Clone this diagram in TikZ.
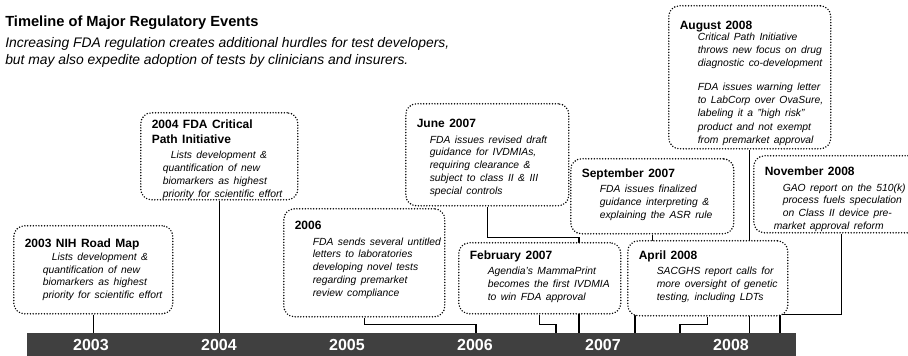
\documentclass[tikz,border=0pt]{standalone}
\usepackage{fontspec}
\setmainfont{Liberation Sans}
\usetikzlibrary{backgrounds}
\definecolor{barfill}{RGB}{64,64,64}
\tikzset{
  heading/.style    = {anchor=base west, inner sep=0pt,
                       font=\fontsize{11}{13}\selectfont\bfseries},
  subheading/.style = {anchor=base west, inner sep=0pt,
                       font=\fontsize{10.4}{12.75}\selectfont\itshape},
  evbox/.style = {
    rectangle, draw=black, fill=white, rounded corners=8pt,
    line width=1.2pt, dash pattern=on 0pt off 2.1pt, line cap=round,
    anchor=north west, inner xsep=8.25pt, inner ysep=3pt, align=left
  },
  evsize/.style 2 args = {minimum width=#1*0.75pt, minimum height=#2*0.75pt,
                          text width=#1*0.75pt-16.5pt},
  yearbar/.style = {fill=barfill, anchor=north west, inner sep=0pt,
                    minimum width=576.75pt, minimum height=17.25pt},
  yearlbl/.style = {text=white, inner sep=0pt,
                    font=\fontsize{12}{12}\selectfont\bfseries},
  conn/.style = {draw=black, line width=0.9pt}
}
\newcommand{\evhead}[2][2pt]{{\fontsize{9}{11}\selectfont\bfseries #2\par}\vspace{#1}}
\newcommand{\evbody}[2][13.5pt]{{\itshape\fontsize{7.75}{9.6}\selectfont
  \hyphenpenalty=10000 \leftskip=#1 \rightskip=-40pt plus 1fil #2\par}}
% trailing kern: negative moves the text down in its box, positive moves it up
\newcommand{\evshift}[1]{\par\kern#1\relax}

\begin{document}
\begin{tikzpicture}[x=0.75pt, y=-0.75pt]
  \useasboundingbox (0,0) rectangle (908,356);

  %% Heading
  \node[heading] (ttl) at (5,27) {Timeline of Major Regulatory Events};
  \node[subheading] (sub1) at (5,48) {Increasing FDA regulation creates additional hurdles for test developers,};
  \node[subheading] (sub2) at (5,65) {but may also expedite adoption of tests by clinicians and insurers.};

  %% Year bar
  \node[yearbar] (bar) at (27,333) {};
  \foreach \yr [count=\i from 0] in {2003,...,2008}
    \node[yearlbl] (y\yr) at (91+128*\i, 345) {\yr};

  %% Where the jogged connectors meet the bar
  \coordinate (tUnt) at (476,333);
  \coordinate (tFeb) at (556,333);
  \coordinate (tJun) at (579,333);
  \coordinate (tSep) at (635,333);
  \coordinate (tApr) at (680,333);
  \coordinate (tNov) at (780,333);

  %% Event boxes
  \node[evbox, evsize={159}{88}] (nih) at (13,225)
    {\evhead[0pt]{2003 NIH Road Map}\evbody{\hspace*{6.75pt}Lists development \&\\quantification of new\\biomarkers as highest\\priority for scientific effort}};
  \node[evbox, evsize={157}{87}] (cpi) at (140,112)
    {\evhead{2004 FDA Critical\\Path Initiative}\evbody[8.25pt]{\hspace*{6pt}Lists development \&\\quantification of new\\biomarkers as highest\\priority for scientific effort}\evshift{-5pt}};
  \node[evbox, evsize={161}{108}] (u06) at (283,208)
    {\evhead{2006}\evbody{FDA sends several untitled\\letters to laboratories\\developing novel tests\\regarding premarket\\review compliance}\evshift{4.5pt}};
  \node[evbox, evsize={163}{102}] (jun) at (405,103)
    {\evhead{June 2007}\evbody[9.75pt]{FDA issues revised draft\\guidance for IVDMIAs,\\requiring clearance \&\\subject to class II \& III\\special controls}\evshift{-4.5pt}};
  \node[evbox, evsize={162}{71}] (feb) at (458,242)
    {\evhead{February 2007}\evbody{Agendia's MammaPrint\\becomes the first IVDMIA\\to win FDA approval}\evshift{3pt}};
  \node[evbox, evsize={163}{75}] (sep) at (570,158)
    {\evhead{September 2007}\evbody{FDA issues finalized\\guidance interpreting \&\\explaining the ASR rule}\evshift{3pt}};
  \node[evbox, evsize={160}{75}] (apr) at (627,240)
    {\evhead{April 2008}\evbody{SACGHS report calls for\\more oversight of genetic\\testing, including LDTs}\evshift{3pt}};
  \node[evbox, evsize={162}{143}] (aug) at (668,5)
    {\evhead[-2pt]{August 2008}\evbody{\baselineskip=10pt Critical Path Initiative\\throws new focus on drug\\diagnostic co-development\\[7.5pt]FDA issues warning letter\\to LabCorp over OvaSure,\\labeling it a "high risk"\\product and not exempt\\from premarket approval}\evshift{-9pt}};
  \node[evbox, evsize={176}{77}] (nov) at (753,155)
    {\evhead{November 2008}\evbody{GAO report on the 510(k)\\process fuels speculation\\on Class II device pre-\\\hspace*{-6.75pt}market approval reform}\evshift{-7.5pt}};

  %% Connectors, behind the boxes
  \begin{scope}[on background layer]
    \draw[conn] (nih.south) -- (nih.south |- bar.north);
    \draw[conn] (cpi.south) -- (cpi.south |- bar.north);
    \draw[conn] (u06.south) -- ++(0,7) -| (tUnt);
    \draw[conn] (jun.south) -- ++(0,31) -| (tJun);
    \draw[conn] (feb.south) -- ++(0,10) -| (tFeb);
    \draw[conn] (sep.south) -- ++(0,40) -| (tSep);
    \draw[conn] (apr.south) -- ++(0,8) -| (tApr);
    \draw[conn] (aug.south) -- (aug.south |- bar.north);
    \draw[conn] (nov.south) -- ++(0,81) -| (tNov);
  \end{scope}
\end{tikzpicture}
\end{document}
